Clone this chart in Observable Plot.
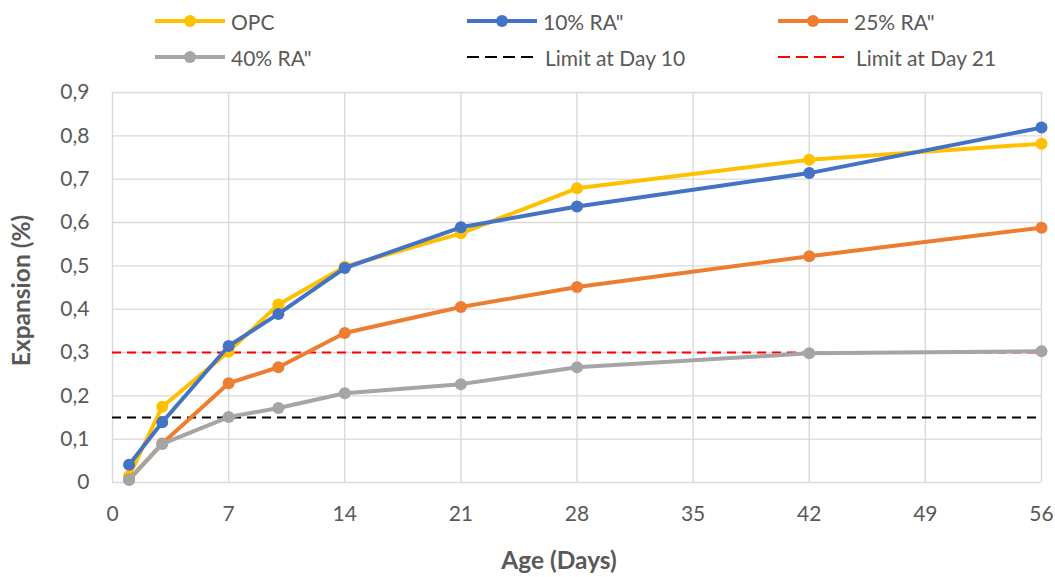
<!DOCTYPE html>
<html><head><meta charset="utf-8">
<script src="https://cdn.jsdelivr.net/npm/d3@7"></script>
<script src="https://cdn.jsdelivr.net/npm/@observablehq/plot@0.6"></script>
<style>
body{margin:0;background:#fff;font-family:Lato,"Open Sans",sans-serif;}
#wrap{width:1055px;position:relative;}
#legend{position:relative;height:70px;width:1055px;}
.item{position:absolute;display:flex;align-items:center;height:24px;color:#595959;font-size:21px;white-space:nowrap;}
.item svg{display:block;}
#chart svg{display:block;}
</style></head><body>
<div id="wrap"><div id="legend"></div><div id="chart"></div></div>
<script>
// ---- data ----
const days = [1, 3, 7, 10, 14, 21, 28, 42, 56];
const opc  = [0.015, 0.175, 0.302, 0.411, 0.498, 0.575, 0.679, 0.745, 0.782];
const ra10 = [0.041, 0.139, 0.315, 0.389, 0.495, 0.589, 0.637, 0.714, 0.819];
const ra25 = [0.007, 0.090, 0.229, 0.266, 0.345, 0.405, 0.451, 0.522, 0.588];
const ra40 = [0.006, 0.089, 0.151, 0.172, 0.206, 0.227, 0.266, 0.298, 0.303];
const seriesNames = ["OPC", "10% RA\"", "25% RA\"", "40% RA\""];
const seriesColors = ["#FFC000", "#4472C4", "#ED7D31", "#A5A5A5"];
const limitNames = ["Limit at Day 10", "Limit at Day 21"];
const limitValues = [0.15, 0.3];
const limitColors = ["#000000", "#FF0000"];
const xTicks = [0, 7, 14, 21, 28, 35, 42, 49, 56];
const yTicks = [0, 0.1, 0.2, 0.3, 0.4, 0.5, 0.6, 0.7, 0.8, 0.9];
const xTitle = "Age (Days)";
const yTitle = "Expansion (%)";

const seriesValues = [opc, ra10, ra25, ra40];
const data = seriesNames.map((name, k) => days.map((d, i) => ({day: d, value: seriesValues[k][i], name})));

// ---- legend ----
const legend = document.getElementById("legend");
const lefts = [155, 467, 778];
const legendItems = [
  ...seriesNames.map((n, i) => ({name: n, color: seriesColors[i], dashed: false})),
  ...limitNames.map((n, i) => ({name: n, color: limitColors[i], dashed: true}))
];
legendItems.forEach((it, i) => {
  const row = Math.floor(i / 3), col = i % 3;
  const div = document.createElement("div");
  div.className = "item";
  div.style.left = lefts[col] + "px";
  div.style.top = (row === 0 ? 9 : 45) + "px";
  const w = 70;
  let sw;
  if (it.dashed) {
    sw = `<svg width="${w}" height="24"><line x1="0" x2="66" y1="12" y2="12" stroke="${it.color}" stroke-width="2.2" stroke-dasharray="12,6"/></svg>`;
  } else {
    sw = `<svg width="${w}" height="24"><line x1="0" x2="${w}" y1="12" y2="12" stroke="${it.color}" stroke-width="4"/><circle cx="${w/2}" cy="12" r="6" fill="${it.color}"/></svg>`;
  }
  div.innerHTML = sw + `<span style="margin-left:${it.dashed ? 8 : 6}px">${it.name}</span>`;
  legend.appendChild(div);
});

// ---- chart ----
const fmt = d => d === 0 ? "0" : d.toFixed(1).replace(".", ",");
const chart = Plot.plot({
  width: 1055,
  height: 507,
  marginTop: 22,
  marginBottom: 95,
  marginLeft: 112,
  marginRight: 14,
  style: {fontFamily: "Lato, 'Open Sans', sans-serif", background: "#fff"},
  x: {domain: [0, 56]},
  y: {domain: [0, 0.9]},
  marks: [
    Plot.ruleX(xTicks, {x: d => d, stroke: "#d9d9d9", strokeWidth: 1.4}),
    Plot.ruleY(yTicks, {y: d => d, stroke: "#d9d9d9", strokeWidth: 1.4}),
    ...limitValues.map((v, i) => Plot.ruleY([v], {y: d => d, stroke: limitColors[i], strokeWidth: 2.2, strokeDasharray: "9,6"})),
    ...data.flatMap((s, k) => [
      Plot.line(s, {x: "day", y: "value", stroke: seriesColors[k], strokeWidth: 4}),
      Plot.dot(s, {x: "day", y: "value", fill: seriesColors[k], r: 6, stroke: "none"})
    ]),
    Plot.axisX(xTicks, {tickSize: 0, tickPadding: 24, fontSize: 21, color: "#595959", label: null}),
    Plot.axisY(yTicks, {tickSize: 0, tickPadding: 23, fontSize: 21, color: "#595959", label: null, tickFormat: fmt}),
    Plot.text([xTitle], {frameAnchor: "bottom", dx: -18, dy: 86, text: d => d, fontWeight: "bold", fontSize: 24.5, fill: "#595959", textAnchor: "middle"}),
    Plot.text([yTitle], {frameAnchor: "left", dx: -90, dy: 3, rotate: -90, text: d => d, fontWeight: "bold", fontSize: 24.5, fill: "#595959", textAnchor: "middle"})
  ]
});
document.getElementById("chart").appendChild(chart);
</script>
</body></html>
